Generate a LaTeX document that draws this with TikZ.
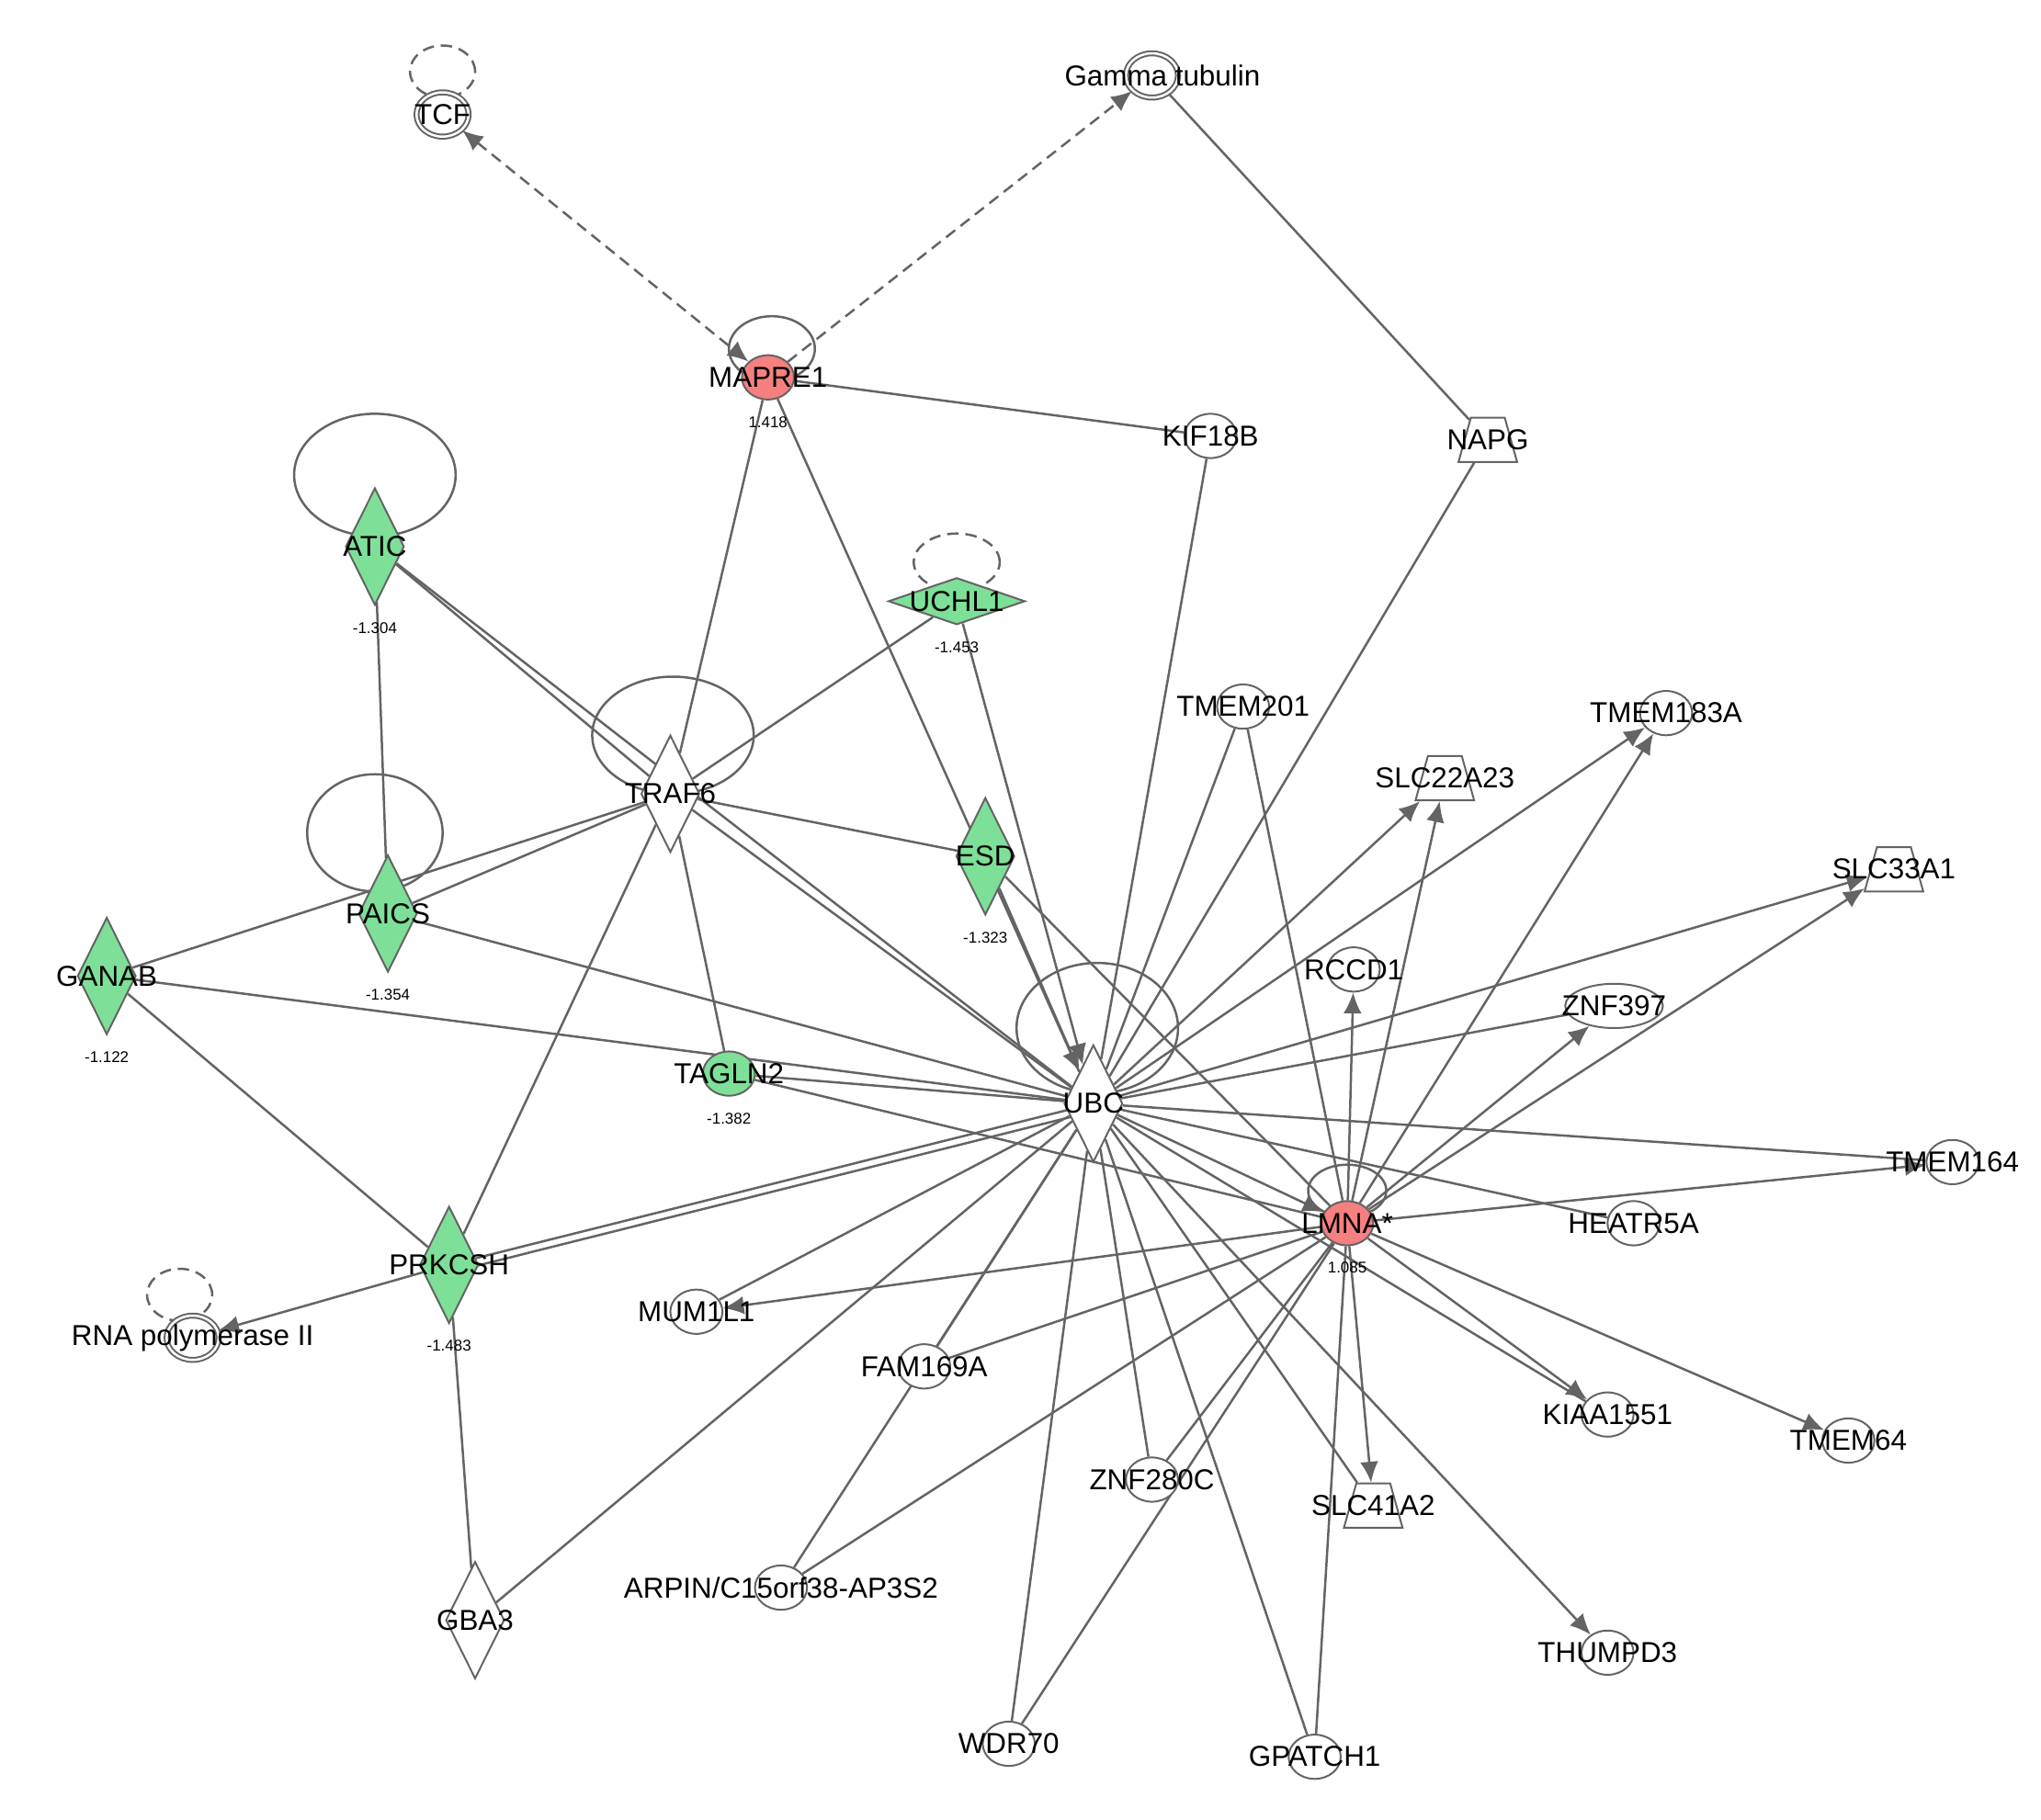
\documentclass[tikz,border=0pt]{standalone}
\usepackage{fontspec}
\setmainfont{Liberation Sans}
\usetikzlibrary{shapes.geometric,arrows.meta}
\pgfdeclarelayer{background}
\pgfsetlayers{background,main}
\definecolor{upred}{RGB}{246,128,128}
\definecolor{downgreen}{RGB}{126,224,152}
\definecolor{edgegray}{RGB}{100,100,100}
\tikzset{
	% gene names
	every label/.style={font=\fontsize{6.3}{7}\selectfont},
	% plain molecule
	mol/.style={
		draw=edgegray,ellipse,fill=white,minimum width=0.4cm,minimum height=0.34cm,inner sep=0pt
	},
	% complex
	cplx/.style={
		mol,double,double distance=0.5pt
	},
	% enzyme
	enz/.style={
		draw=edgegray,diamond,fill=white,minimum width=0.45cm,minimum height=0.9cm,inner sep=0pt
	},
	% transporter
	trans/.style={
		draw=edgegray,trapezium,trapezium angle=70,trapezium stretches=true,fill=white,
		minimum width=0.45cm,minimum height=0.34cm,inner sep=1pt
	},
	up/.style={fill=upred},
	down/.style={fill=downgreen},
	val/.style={font=\fontsize{3.4}{4}\selectfont},
	edge/.style={draw=edgegray,line width=0.5pt},
	act/.style={edge,-{Latex[length=1.6mm,width=1.4mm]}},
	dashedge/.style={edge,dash pattern=on 2.5pt off 1.5pt},
}
\begin{document}
\begin{tikzpicture}[x=0.01cm,y=-0.01cm]
	\useasboundingbox (0,0) rectangle (1568,1398);
	% top
	\node [cplx,label=center:TCF] (TCF) at (340,88) {};
	\node [cplx,label={[xshift=0.08cm]center:Gamma tubulin}] (Gamma) at (885,58) {};
	\node [mol,up,label=center:MAPRE1,label={[val]below:1.418}] (MAPRE1) at (590,290) {};
	\node [mol,label=center:KIF18B] (KIF18B) at (930,335) {};
	\node [trans,label=center:NAPG] (NAPG) at (1143,338) {};
	% left group
	\node [enz,down,label=center:ATIC,label={[val]below:-1.304}] (ATIC) at (288,420) {};
	\node [enz,down,minimum width=1.05cm,minimum height=0.36cm,label=center:UCHL1,label={[val]below:-1.453}] (UCHL1) at (735,462) {};
	\node [enz,label=center:TRAF6] (TRAF6) at (515,610) {};
	\node [enz,down,label=center:ESD,label={[val]below:-1.323}] (ESD) at (757,658) {};
	\node [enz,down,label=center:PAICS,label={[val]below:-1.354}] (PAICS) at (298,702) {};
	\node [enz,down,label=center:GANAB,label={[val]below:-1.122}] (GANAB) at (82,750) {};
	\node [mol,down,label=center:TAGLN2,label={[val]below:-1.382}] (TAGLN2) at (560,825) {};
	\node [enz,label=center:UBC] (UBC) at (840,848) {};
	\node [enz,down,label=center:PRKCSH,label={[val]below:-1.483}] (PRKCSH) at (345,972) {};
	\node [cplx,label=center:RNA polymerase II] (RNApol) at (148,1028) {};
	\node [enz,label=center:GBA3] (GBA3) at (365,1245) {};
	% right group
	\node [mol,label=center:TMEM201] (TMEM201) at (955,543) {};
	\node [mol,label=center:TMEM183A] (TMEM183A) at (1280,548) {};
	\node [trans,label=center:SLC22A23] (SLC22A23) at (1110,598) {};
	\node [trans,label=center:SLC33A1] (SLC33A1) at (1455,668) {};
	\node [mol,label=center:RCCD1] (RCCD1) at (1040,745) {};
	\node [mol,minimum width=0.75cm,label=center:ZNF397] (ZNF397) at (1240,773) {};
	\node [mol,label=center:TMEM164] (TMEM164) at (1500,893) {};
	\node [mol,up,label=center:LMNA*,label={[val]below:1.085}] (LMNA) at (1035,940) {};
	\node [mol,label=center:HEATR5A] (HEATR5A) at (1255,940) {};
	\node [mol,label=center:MUM1L1] (MUM1L1) at (535,1008) {};
	\node [mol,label=center:FAM169A] (FAM169A) at (710,1050) {};
	\node [mol,label=center:KIAA1551] (KIAA1551) at (1235,1087) {};
	\node [mol,label=center:TMEM64] (TMEM64) at (1420,1107) {};
	\node [mol,label=center:ZNF280C] (ZNF280C) at (885,1137) {};
	\node [trans,label=center:SLC41A2] (SLC41A2) at (1055,1157) {};
	\node [mol,label=center:ARPIN/C15orf38-AP3S2] (ARPIN) at (600,1220) {};
	\node [mol,label=center:THUMPD3] (THUMPD3) at (1235,1270) {};
	\node [mol,label=center:WDR70] (WDR70) at (775,1340) {};
	\node [mol,label=center:GPATCH1] (GPATCH1) at (1010,1350) {};

	\begin{pgfonlayer}{background}
		% self loops
		\draw [dashedge] (TCF) ++(0,-33) ellipse (0.25cm and 0.2cm);
		\draw [dashedge] (UCHL1) ++(0,-30) ellipse (0.33cm and 0.22cm);
		\draw [dashedge] (RNApol) ++(-10,-33) ellipse (0.25cm and 0.2cm);
		\draw [edge] (MAPRE1) ++(3,-22) ellipse (0.33cm and 0.25cm);
		\draw [edge] (ATIC) ++(0,-55) ellipse (0.62cm and 0.47cm);
		\draw [edge] (TRAF6) ++(2,-45) ellipse (0.62cm and 0.45cm);
		\draw [edge] (PAICS) ++(-10,-62) ellipse (0.52cm and 0.45cm);
		\draw [edge] (UBC) ++(3,-58) ellipse (0.62cm and 0.5cm);
		\draw [edge] (LMNA) ++(0,-25) ellipse (0.3cm and 0.2cm);
		% top edges
		\draw [dashedge,{Latex[length=1.6mm,width=1.4mm]}-{Latex[length=1.6mm,width=1.4mm]}] (TCF) -- (MAPRE1);
		\draw [dashedge,-{Latex[length=1.6mm,width=1.4mm]}] (MAPRE1) -- (Gamma);
		\draw [edge] (Gamma) -- (NAPG);
		\draw [edge] (MAPRE1) -- (KIF18B);
		\draw [edge] (MAPRE1) -- (TRAF6);
		\draw [edge] (MAPRE1) -- (UBC);
		% left edges
		\draw [edge] (ATIC) -- (PAICS);
		\draw [edge] (ATIC) -- (TRAF6);
		\draw [edge] (ATIC) -- (UBC);
		\draw [edge] (UCHL1) -- (TRAF6);
		\draw [act] (UCHL1) -- (UBC);
		\draw [edge] (TRAF6) -- (PAICS);
		\draw [edge] (TRAF6) -- (GANAB);
		\draw [edge] (TRAF6) -- (ESD);
		\draw [edge] (TRAF6) -- (TAGLN2);
		\draw [edge] (TRAF6) -- (PRKCSH);
		\draw [edge] (TRAF6) -- (UBC);
		\draw [edge] (PAICS) -- (UBC);
		\draw [edge] (GANAB) -- (UBC);
		\draw [edge] (GANAB) -- (PRKCSH);
		\draw [edge] (TAGLN2) -- (UBC);
		\draw [edge] (TAGLN2) -- (LMNA);
		\draw [act] (ESD) -- (UBC);
		\draw [edge] (ESD) -- (LMNA);
		\draw [edge] (PRKCSH) -- (UBC);
		\draw [edge] ([yshift=-0.06cm]PRKCSH.center) -- ([yshift=-0.06cm]UBC.center);
		\draw [act] (PRKCSH) -- (RNApol);
		\draw [edge] (PRKCSH) -- (GBA3);
		\draw [edge] (GBA3) -- (UBC);
		% UBC edges
		\draw [edge] (UBC) -- (KIF18B);
		\draw [edge] (UBC) -- (NAPG);
		\draw [edge] (UBC) -- (TMEM201);
		\draw [act] (UBC) -- (TMEM183A);
		\draw [act] (UBC) -- (SLC22A23);
		\draw [act] (UBC) -- (SLC33A1);
		\draw [edge] (UBC) -- (ZNF397);
		\draw [edge] (UBC) -- (TMEM164);
		\draw [edge] (UBC) -- (HEATR5A);
		\draw [act] (UBC) -- (LMNA);
		\draw [edge] (UBC) -- (MUM1L1);
		\draw [edge] (UBC) -- (FAM169A);
		\draw [edge] (UBC) -- (ZNF280C);
		\draw [edge] (UBC) -- (WDR70);
		\draw [edge] (UBC) -- (GPATCH1);
		\draw [edge] (UBC) -- (SLC41A2);
		\draw [act] (UBC) -- (THUMPD3);
		\draw [edge] (UBC) -- (KIAA1551);
		\draw [edge] (UBC) -- (ARPIN);
		% LMNA edges
		\draw [edge] (TMEM201) -- (LMNA);
		\draw [act] (LMNA) -- (RCCD1);
		\draw [act] (LMNA) -- (ZNF397);
		\draw [act] (LMNA) -- (SLC22A23);
		\draw [act] (LMNA) -- (TMEM183A);
		\draw [act] (LMNA) -- (SLC33A1);
		\draw [act] (LMNA) -- (TMEM164);
		\draw [act] (LMNA) -- (KIAA1551);
		\draw [act] (LMNA) -- (TMEM64);
		\draw [act] (LMNA) -- (SLC41A2);
		\draw [act] (LMNA) -- (MUM1L1);
		\draw [edge] (LMNA) -- (FAM169A);
		\draw [edge] (LMNA) -- (ARPIN);
		\draw [edge] (LMNA) -- (ZNF280C);
		\draw [edge] (LMNA) -- (GPATCH1);
		\draw [edge] (LMNA) -- (WDR70);
	\end{pgfonlayer}
\end{tikzpicture}
\end{document}
